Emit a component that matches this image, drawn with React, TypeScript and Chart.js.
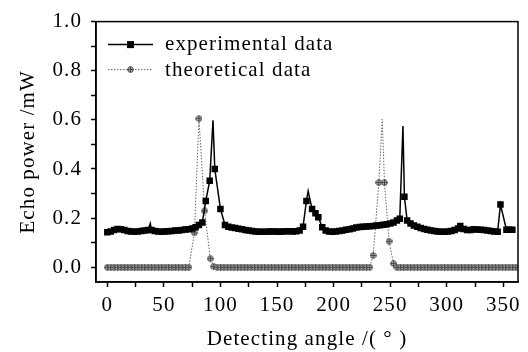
import React, { useEffect, useRef } from "react";
import { Chart, registerables } from "chart.js";

Chart.register(...registerables);

// ---- Data ----
const expAngles = [
  0, 3, 6, 9, 12, 15, 18, 21, 24, 27,
  30, 33, 36, 38, 39, 42, 45, 48, 51, 54,
  57, 60, 63, 66, 69, 72, 75, 78, 81, 84,
  87, 90.5, 93.4, 95, 100, 104, 107, 110, 113, 116,
  119, 122, 125, 128, 131, 134, 137, 140, 143, 146,
  149, 152, 155, 158, 161, 164, 167, 170, 173, 176,
  177.5, 181, 184, 186.5, 190, 193, 196, 199, 202, 205,
  208, 211, 214, 217, 220, 223, 226, 229, 232, 235,
  238, 241, 244, 247, 250, 253, 256, 258.5, 261.3, 262.6,
  265, 268, 271, 274, 277, 280, 283, 286, 289, 292,
  295, 298, 301, 304, 307, 310, 312, 315, 318, 321,
  324, 327, 330, 333, 336, 339, 342, 345, 347.5, 352.8,
  355.5, 358,
];
const expValues = [
  0.143, 0.146, 0.152, 0.156, 0.155, 0.152, 0.148, 0.146, 0.145, 0.146,
  0.148, 0.15, 0.152, 0.178, 0.152, 0.148, 0.146, 0.145, 0.146, 0.147,
  0.148, 0.15, 0.15, 0.152, 0.154, 0.155, 0.158, 0.163, 0.172, 0.182,
  0.27, 0.352, 0.598, 0.4, 0.237, 0.172, 0.165, 0.162, 0.16, 0.157,
  0.155, 0.152, 0.15, 0.148, 0.146, 0.145, 0.145, 0.145, 0.146, 0.146,
  0.146, 0.145, 0.146, 0.147, 0.147, 0.146, 0.147, 0.15, 0.165, 0.27,
  0.31, 0.237, 0.22, 0.204, 0.163, 0.15, 0.146, 0.145, 0.146, 0.148,
  0.15, 0.153, 0.155, 0.158, 0.162, 0.164, 0.165, 0.166, 0.167, 0.168,
  0.17, 0.171, 0.173, 0.175, 0.178, 0.182, 0.19, 0.197, 0.575, 0.287,
  0.19, 0.178, 0.17, 0.165, 0.16, 0.156, 0.153, 0.15, 0.148, 0.146,
  0.145, 0.145, 0.146, 0.148, 0.152, 0.158, 0.168, 0.156, 0.152, 0.152,
  0.155, 0.154, 0.153, 0.152, 0.15, 0.148, 0.146, 0.145, 0.255, 0.153,
  0.153, 0.153,
];
const expPeakAngles = [38, 93.4, 177.5, 261.3];

const theoAngles = [
  0, 3, 6, 9, 12, 15, 18, 21, 24, 27,
  30, 33, 36, 39, 42, 45, 48, 51, 54, 57,
  60, 63, 66, 69, 72,
  77, 81, 86, 91,
  94, 97, 100, 103, 106, 109, 112, 115, 118, 121,
  124, 127, 130, 133, 136, 139, 142, 145, 148, 151,
  154, 157, 160, 163, 166, 169, 172, 175, 178, 181,
  184, 187, 190, 193, 196, 199, 202, 205, 208, 211,
  214, 217, 220, 223, 226, 229, 232,
  235, 240, 243, 245, 249, 253,
  256, 259, 262, 265, 268, 271, 274, 277, 280, 283,
  286, 289, 292, 295, 298, 301, 304, 307, 310, 313,
  316, 319, 322, 325, 328, 331, 334, 337, 340, 343,
  346, 349, 352, 355, 358, 361,
];
const theoValues = [
  0, 0, 0, 0, 0, 0, 0, 0, 0, 0,
  0, 0, 0, 0, 0, 0, 0, 0, 0, 0,
  0, 0, 0, 0, 0,
  0.14, 0.605, 0.23, 0.035,
  0.003, 0, 0, 0, 0, 0, 0, 0, 0, 0,
  0, 0, 0, 0, 0, 0, 0, 0, 0, 0,
  0, 0, 0, 0, 0, 0, 0, 0, 0, 0,
  0, 0, 0, 0, 0, 0, 0, 0, 0, 0,
  0, 0, 0, 0, 0, 0, 0,
  0.048, 0.345, 0.602, 0.345, 0.106, 0.015,
  0, 0, 0, 0, 0, 0, 0, 0, 0, 0,
  0, 0, 0, 0, 0, 0, 0, 0, 0, 0,
  0, 0, 0, 0, 0, 0, 0, 0, 0, 0,
  0, 0, 0, 0, 0, 0,
];
const theoPeakAngles = [243];

const xTickValues = [0, 25, 50, 75, 100, 125, 150, 175, 200, 225, 250, 275, 300, 325, 350];
const xLabelValues = [0, 50, 100, 150, 200, 250, 300, 350];
const yTickValues = [0, 0.1, 0.2, 0.3, 0.4, 0.5, 0.6, 0.7, 0.8, 0.9, 1.0];
const yLabelValues = [0, 0.2, 0.4, 0.6, 0.8, 1.0];

const seriesLabels = ["experimental data", "theoretical data"];

const FONT = "'Liberation Serif', 'Times New Roman', serif";
const FSIZE = 21;
const SPACING = "1.1px";

function makeCrossCircle(): HTMLCanvasElement {
  const c = document.createElement("canvas");
  c.width = 7;
  c.height = 7;
  const g = c.getContext("2d")!;
  g.strokeStyle = "#444";
  g.lineWidth = 1;
  g.fillStyle = "#bbb";
  g.beginPath();
  g.arc(3.5, 3.5, 2.8, 0, Math.PI * 2);
  g.fill();
  g.stroke();
  g.beginPath();
  g.moveTo(3.5, 0.6);
  g.lineTo(3.5, 6.4);
  g.moveTo(0.6, 3.5);
  g.lineTo(6.4, 3.5);
  g.stroke();
  return c;
}

export default function App() {
  const ref = useRef<HTMLCanvasElement>(null);

  useEffect(() => {
    document.body.style.margin = "0";
    const crossImg = makeCrossCircle();

    const spacingPlugin = {
      id: "spacing",
      beforeUpdate(chart: any) {
        chart.ctx.letterSpacing = SPACING;
      },
      beforeDraw(chart: any) {
        chart.ctx.letterSpacing = SPACING;
      },
    };

    const framePlugin = {
      id: "frame",
      afterDraw(chart: any) {
        const { ctx, chartArea: a } = chart;
        ctx.save();
        ctx.strokeStyle = "#000";
        ctx.lineWidth = 1.5;
        ctx.strokeRect(a.left, a.top, a.right - a.left, a.bottom - a.top);

        // legend inside the plot area
        const lx0 = a.left + 12;
        const lx1 = a.left + 57;
        const tx = a.left + 69;
        const r1 = a.top + 23;
        const r2 = a.top + 48;
        ctx.font = `${FSIZE}px ${FONT}`;
        ctx.letterSpacing = SPACING;
        ctx.fillStyle = "#000";
        ctx.textBaseline = "middle";
        ctx.textAlign = "left";
        ctx.beginPath();
        ctx.moveTo(lx0, r1);
        ctx.lineTo(lx1, r1);
        ctx.stroke();
        ctx.fillRect((lx0 + lx1) / 2 - 3.5, r1 - 3.5, 7, 7);
        ctx.fillText(seriesLabels[0], tx, r1);
        ctx.strokeStyle = "#666";
        ctx.lineWidth = 1;
        ctx.setLineDash([1.5, 1.5]);
        ctx.beginPath();
        ctx.moveTo(lx0, r2);
        ctx.lineTo(lx1, r2);
        ctx.stroke();
        ctx.setLineDash([]);
        ctx.drawImage(crossImg, (lx0 + lx1) / 2 - 3.5, r2 - 3.5);
        ctx.fillText(seriesLabels[1], tx, r2 + 1);
        ctx.restore();
      },
    };

    const chart = new Chart(ref.current!, {
      type: "line",
      data: {
        datasets: [
          {
            label: seriesLabels[0],
            data: expAngles.map((x, i) => ({ x, y: expValues[i] })),
            borderColor: "#000",
            borderWidth: 1.5,
            tension: 0,
            pointStyle: "rect",
            pointRadius: (c: any) => (c.raw && expPeakAngles.includes(c.raw.x) ? 0 : 4.6),
            pointBackgroundColor: "#000",
            pointBorderColor: "#000",
            pointBorderWidth: 0,
            order: 1,
          },
          {
            label: seriesLabels[1],
            data: theoAngles.map((x, i) => ({ x, y: theoValues[i] })),
            borderColor: "#666",
            borderWidth: 1,
            borderDash: [1.5, 1.5],
            tension: 0,
            pointStyle: crossImg as any,
            pointRadius: (c: any) => (c.raw && theoPeakAngles.includes(c.raw.x) ? 0 : 3),
            order: 2,
          },
        ],
      },
      options: {
        responsive: true,
        maintainAspectRatio: false,
        animation: false,
        layout: { padding: { left: 16, top: 20, right: 10, bottom: 0 } },
        plugins: {
          legend: { display: false },
          tooltip: { enabled: false },
        },
        scales: {
          x: {
            type: "linear",
            min: -10,
            max: 363,
            afterBuildTicks: (s: any) => {
              s.ticks = xTickValues.map((v) => ({ value: v }));
            },
            afterFit: (s: any) => {
              s.height = 70;
            },
            ticks: {
              autoSkip: false,
              maxRotation: 0,
              padding: 6,
              color: "#000",
              font: { family: FONT, size: FSIZE },
              callback: (v: any) => (xLabelValues.includes(Number(v)) ? String(v) : ""),
            },
            grid: {
              drawOnChartArea: false,
              drawTicks: true,
              tickLength: 5,
              tickColor: "#000",
              tickWidth: 1.5,
            },
            border: { display: true, color: "#000", width: 1.5 },
            title: {
              display: true,
              text: "Detecting angle /( ° )",
              color: "#000",
              font: { family: FONT, size: FSIZE },
              padding: 0,
            },
          },
          y: {
            type: "linear",
            min: -0.06,
            max: 1.0,
            afterBuildTicks: (s: any) => {
              s.ticks = yTickValues.map((v) => ({ value: v }));
            },
            afterFit: (s: any) => {
              s.width = 80;
            },
            ticks: {
              autoSkip: false,
              padding: 9,
              color: "#000",
              font: { family: FONT, size: FSIZE },
              callback: (v: any) =>
                yLabelValues.some((l) => Math.abs(l - Number(v)) < 1e-6) ? Number(v).toFixed(1) : "",
            },
            grid: {
              drawOnChartArea: false,
              drawTicks: true,
              tickLength: 5,
              tickColor: "#000",
              tickWidth: 1.5,
            },
            border: { display: true, color: "#000", width: 1.5 },
            title: {
              display: true,
              text: "Echo power /mW",
              color: "#000",
              font: { family: FONT, size: FSIZE },
              padding: 0,
            },
          },
        },
      },
      plugins: [spacingPlugin, framePlugin],
    });

    return () => chart.destroy();
  }, []);

  return (
    <div style={{ width: 528, height: 352, position: "relative" }}>
      <canvas ref={ref} />
    </div>
  );
}
